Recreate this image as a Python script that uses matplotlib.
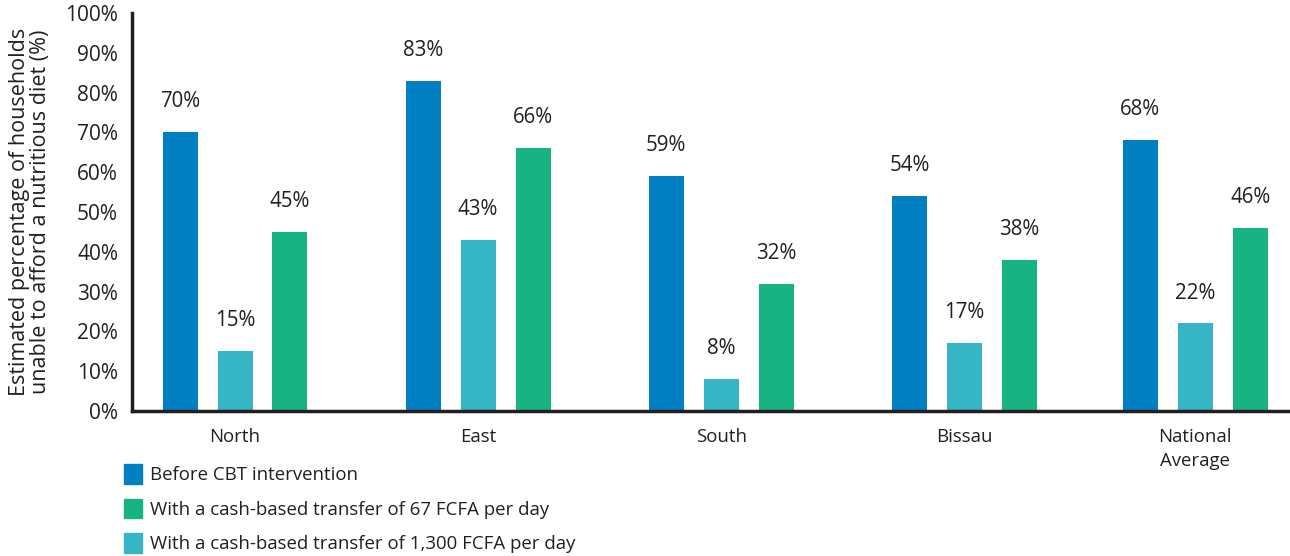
import numpy as np
import matplotlib
matplotlib.use("Agg")
import matplotlib.pyplot as plt
from matplotlib.patches import Patch

plt.rcParams['font.family'] = ['Open Sans', 'DejaVu Sans']

# data
regions = ["North", "East", "South", "Bissau", "National\nAverage"]
before_cbt = [70, 83, 59, 54, 68]
cbt_1300 = [15, 43, 8, 17, 22]
cbt_67 = [45, 66, 32, 38, 46]

series_names = ["Before CBT intervention",
                "With a cash-based transfer of 67 FCFA per day",
                "With a cash-based transfer of 1,300 FCFA per day"]

c_blue = "#0080C3"
c_teal = "#35B5C5"
c_green = "#18B383"
txt = "#231F20"

fig = plt.figure(figsize=(12.9, 5.56), dpi=100)
ax = fig.add_axes([0.1023, 0.2608, 0.8977, 0.716])

# group centres (last group sits a little closer in the original)
x = np.array([0, 1, 2, 3, 3.95])
w = 0.144
off = 0.226

groups = [(before_cbt, c_blue, -off), (cbt_1300, c_teal, 0), (cbt_67, c_green, off)]
for vals, col, dx in groups:
    ax.bar(x + dx, vals, width=w, color=col)
    for xi, v in zip(x, vals):
        ax.text(xi + dx, v + 5, f"{v}%", ha="center", va="bottom",
                fontsize=14.8, color=txt)

ax.set_xlim(-0.424, 4.34)
ax.set_ylim(0, 100)
ax.set_yticks(range(0, 101, 10))
ax.set_yticklabels([f"{t}%" for t in range(0, 101, 10)], fontsize=15, color=txt)
ax.set_xticks(x)
ax.set_xticklabels(regions, fontsize=13.4, color=txt, linespacing=1.45)
ax.tick_params(axis="both", length=0)
ax.tick_params(axis="x", pad=12)
ax.tick_params(axis="y", pad=10)

for s in ["top", "right"]:
    ax.spines[s].set_visible(False)
for s in ["left", "bottom"]:
    ax.spines[s].set_linewidth(2.5)
    ax.spines[s].set_color(txt)

ax.set_ylabel("Estimated percentage of households\nunable to afford a nutritious diet (%)",
              fontsize=15.5, color=txt, linespacing=1.0, labelpad=10)

handles = [Patch(color=c_blue), Patch(color=c_green), Patch(color=c_teal)]
fig.legend(handles, series_names, loc="upper left",
           bbox_to_anchor=(0.096, 1 - 464 / 556), frameon=False,
           fontsize=13.4, handlelength=1.0, handleheight=1.25,
           handletextpad=0.4, labelspacing=0.78, labelcolor=txt,
           borderaxespad=0, borderpad=0)

fig.savefig("out.png", dpi=100)
